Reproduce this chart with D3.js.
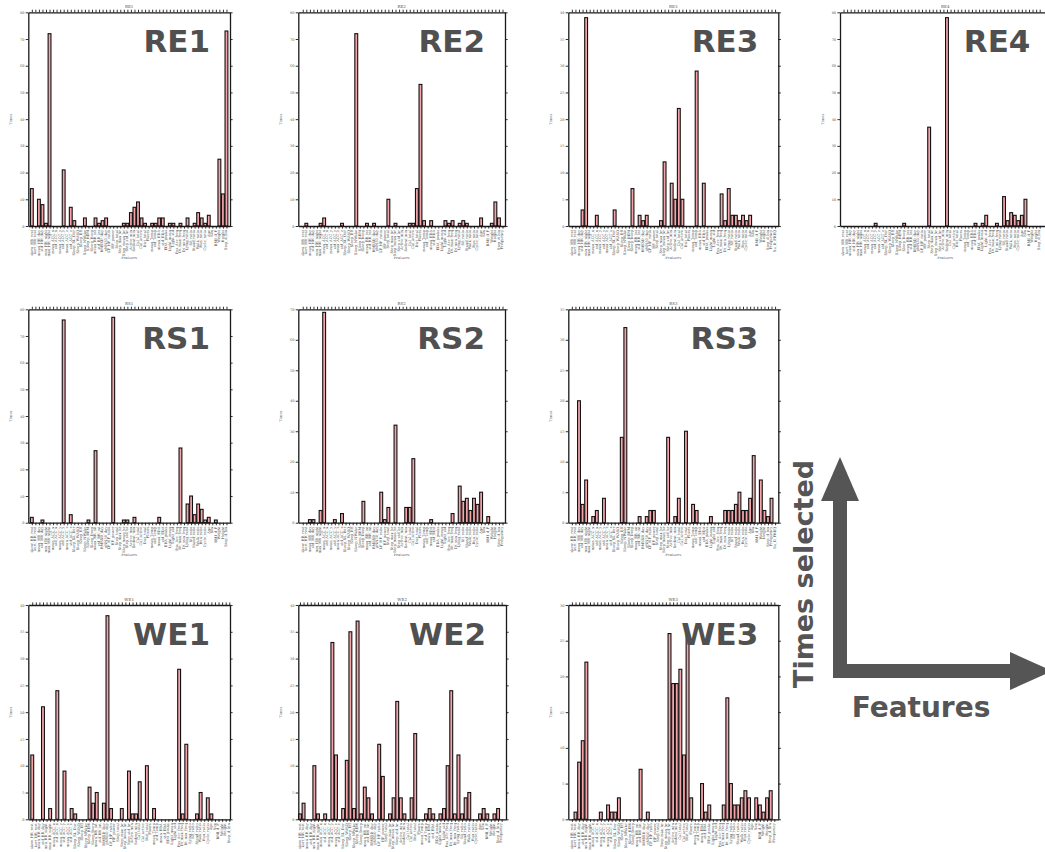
<!DOCTYPE html>
<html>
<head>
<meta charset="utf-8">
<script src="https://cdn.jsdelivr.net/npm/d3@7"></script>
<style>
  body { margin: 0; background: #fff; }
  svg { display: block; }
  .tick text { fill: #444; }
</style>
</head>
<body>
<svg id="fig" width="1045" height="852"></svg>
<script>
// feature names along the x axis (shared, each panel uses the first n)
const features = [
  "skew_HR_rest", "kurt_HR_rest", "mean_HR_day", "std_HR_day", "min_HR_night", "max_HR_night",
  "mean_ACC_x", "std_ACC_x", "mean_ACC_y", "std_ACC_y", "mean_ACC_z", "std_ACC_z",
  "Sleep_SL_Dur", "Sleep_WASO", "Sleep_Eff", "Sleep_NWake", "Sleep_REM", "Sleep_Deep",
  "mean_RR_int", "std_RR_int", "RMSSD_day", "pNN50_day", "LF_HF_ratio", "HF_power",
  "Step_total", "Step_max_hr", "Step_mean_hr", "Step_std_hr", "Active_min", "Sedent_min",
  "Cal_total", "Cal_active", "Dist_total", "Floors", "mean_Temp", "std_Temp",
  "mean_EDA", "std_EDA", "EDA_peaks", "Light_mean", "Light_std", "Pos_Acc_freq",
  "Dt_max_freq", "Dt_min_freq", "Lying_ratio", "Sit_ratio", "Stand_ratio", "Walk_ratio",
  "Run_ratio", "Cycle_ratio", "Age", "Sex", "BMI_d_F", "Weight",
  "Height", "Step_d_bin", "Frequency", "Su_D_FREQ"
];

const panelNames = ["RE1", "RE2", "RE3", "RE4", "RS1", "RS2", "RS3", "WE1", "WE2", "WE3"];
const yMax  = [80, 80, 40, 80, 80, 70, 35, 40, 40, 30];
const yStep = [10, 10, 5, 10, 10, 10, 5, 5, 5, 5];

// times each feature was selected, one array per panel
const RE1 = [14,0,10,8,1,72,0,0,0,21, 0,7,2,0,0,3,0,0,3,1, 2,3,0,0,0,0,1,1,5,7,
             9,3,1,0,1,1,3,3,0,1, 1,0,1,0,3,0,1,5,3,1, 4,0,0,25,12,73];
const RE2 = [0,1,0,0,0,1,3,0,0,0, 0,1,0,0,0,72,0,0,1,0, 1,0,0,0,10,0,1,0,0,0,
             1,1,14,53,2,0,2,0,0,0, 2,1,2,0,1,2,1,0,0,0, 3,0,0,1,9,3,0];
const RE3 = [0,0,0,3,39,0,0,2,0,0, 0,0,3,0,0,0,0,7,0,2, 1,2,0,0,0,1,12,0,8,5,
             22,5,0,0,0,29,0,8,0,0, 0,0,6,1,7,2,2,1,2,1, 2,0,0,0,0,0,0,0];
const RE4 = [0,0,0,0,0,0,0,0,0,1, 0,0,0,0,0,0,0,1,0,0, 0,0,0,0,37,0,0,0,0,78,
             0,0,0,0,0,0,0,1,0,1, 4,0,0,1,0,11,2,5,4,2, 4,10,0,0,0,0,0,0];
const RS1 = [2,0,0,1,0,0,0,0,0,76, 0,3,0,0,0,0,1,0,27,0, 0,0,0,77,0,0,1,1,0,2,
             0,0,0,0,0,0,2,0,0,0, 0,0,28,0,7,10,3,7,5,1, 2,0,1,0,0,0];
const RS2 = [0,0,1,1,0,4,69,0,0,1, 0,3,0,0,0,0,0,7,0,0, 0,0,10,1,5,0,32,0,0,5,
             5,21,0,0,0,0,1,0,0,0, 0,0,3,0,12,7,8,4,8,6, 10,0,2,0,0,0,0];
const RS3 = [0,0,20,3,7,0,1,2,0,4, 0,0,0,0,14,32,0,0,0,1, 0,1,2,2,0,0,0,14,0,1,
             4,0,15,0,3,2,0,0,0,1, 0,0,0,2,2,2,3,5,2,2, 4,11,0,7,2,1,4,0];
const WE1 = [12,0,0,21,0,2,0,24,0,9, 0,2,1,0,0,0,6,3,5,0, 3,38,2,0,0,2,0,9,1,1,
             7,0,10,0,2,0,0,0,0,0, 0,28,1,14,0,0,1,5,0,4, 1,0,0,0,0,0];
const WE2 = [1,3,0,0,10,1,0,1,0,33, 12,0,2,11,35,2,37,1,6,4, 1,0,14,8,0,1,4,22,4,1,
             0,4,16,0,0,1,2,1,0,1, 2,10,24,1,12,1,4,5,0,0, 1,2,1,0,1,2,0];
const WE3 = [0,1,8,11,22,0,0,0,1,0, 2,1,1,3,0,0,0,0,0,7, 0,1,0,0,0,0,0,26,19,19,
             21,9,26,3,0,0,5,1,2,0, 0,0,2,17,5,2,2,3,4,3, 0,3,2,1,3,4,0];
const series = [RE1, RE2, RE3, RE4, RS1, RS2, RS3, WE1, WE2, WE3];

// where each small axes box sits on the page, and its x extent in feature units
const layout = [
  {x0: 28.3,  x1: 230,   y0: 12.3,  y1: 226,   lo: 0,     hi: 57},
  {x0: 298.3, x1: 505,   y0: 12.3,  y1: 226,   lo: -0.25, hi: 57.7},
  {x0: 568.3, x1: 778.3, y0: 12.3,  y1: 226,   lo: 0,     hi: 58.9},
  {x0: 840,   x1: 1050.4,y0: 12.3,  y1: 226,   lo: 0,     hi: 59},
  {x0: 28.3,  x1: 230,   y0: 309.3, y1: 522.7, lo: 0,     hi: 57},
  {x0: 298.3, x1: 505,   y0: 309.3, y1: 522.7, lo: -0.25, hi: 57.7},
  {x0: 568.3, x1: 778.3, y0: 309.3, y1: 522.7, lo: 0,     hi: 58.9},
  {x0: 28.3,  x1: 230,   y0: 605,   y1: 819.3, lo: -0.1,  hi: 56.2},
  {x0: 298.3, x1: 506,   y0: 605,   y1: 819.3, lo: 0.54,  hi: 58.2},
  {x0: 568.3, x1: 778.3, y0: 605,   y1: 819.3, lo: 0,     hi: 58.1}
];

const W = 1045, H = 852;
const svg = d3.select("#fig");
svg.append("rect").attr("width", W).attr("height", H).attr("fill", "#fff");

const ink = "#1a1a1a", grey = "#555";

panelNames.forEach(function(name, p) {
  var L = layout[p], vals = series[p], n = vals.length;
  var x = d3.scaleLinear().domain([L.lo, L.hi]).range([L.x0, L.x1]);
  var y = d3.scaleLinear().domain([0, yMax[p]]).range([L.y1, L.y0]);
  var g = svg.append("g");
  var bw = 0.8 * (x(1) - x(0));
  var idx = d3.range(1, n + 1);
  var shown = idx.filter(function(k) { return x(k) < W - 2; });
  var yt = d3.range(0, yMax[p] + 0.001, yStep[p]);

  g.selectAll("rect.bar").data(idx.filter(function(k) { return vals[k - 1] > 0; }))
    .enter().append("rect").attr("class", "bar")
      .attr("x", function(k) { return x(k) - bw / 2; })
      .attr("y", function(k) { return y(vals[k - 1]); })
      .attr("width", bw)
      .attr("height", function(k) { return y(0) - y(vals[k - 1]); })
      .attr("fill", "#f3a5aa").attr("stroke", "#111").attr("stroke-width", 1.1);

  var bottom = g.append("g").attr("transform", "translate(0," + L.y1 + ")")
    .call(d3.axisBottom(x).tickValues(shown).tickSize(2.6).tickSizeOuter(0)
      .tickFormat(function(k) { return features[k - 1]; }));
  bottom.selectAll("text").attr("font-size", 3.6).attr("font-family", "DejaVu Serif")
    .attr("transform", "rotate(-90)").attr("text-anchor", "end")
    .attr("x", -4).attr("y", -0.9).attr("dy", "0.32em");

  g.append("g").attr("transform", "translate(0," + L.y0 + ")")
    .call(d3.axisTop(x).tickValues(shown).tickSize(2.6).tickSizeOuter(0).tickFormat(""));

  var left = g.append("g").attr("transform", "translate(" + L.x0 + ",0)")
    .call(d3.axisLeft(y).tickValues(yt).tickSize(2.6).tickSizeOuter(0));
  left.selectAll("text").attr("font-size", 3.4).attr("font-family", "DejaVu Serif").attr("x", -4);

  g.append("g").attr("transform", "translate(" + L.x1 + ",0)")
    .call(d3.axisRight(y).tickValues(yt).tickSize(2.6).tickSizeOuter(0).tickFormat(""));

  g.selectAll(".domain").attr("stroke", ink).attr("stroke-width", 1.3);
  g.selectAll(".tick line").attr("stroke", ink).attr("stroke-width", 0.9);

  // tiny matplotlib-style title and axis names (bottom row x-name falls off the page)
  g.append("text").attr("x", (L.x0 + L.x1) / 2).attr("y", L.y0 - 4.5)
    .attr("text-anchor", "middle").attr("font-size", 4).attr("font-family", "DejaVu Serif")
    .attr("fill", grey).text(name);
  if (L.y1 + 36 < H) {
    g.append("text").attr("x", (L.x0 + L.x1) / 2).attr("y", L.y1 + 33)
      .attr("text-anchor", "middle").attr("font-size", 3.6).attr("font-family", "DejaVu Serif")
      .attr("fill", grey).text("Features");
  }
  g.append("text").attr("transform", "translate(" + (L.x0 - 16) + "," + ((L.y0 + L.y1) / 2) + ") rotate(-90)")
    .attr("text-anchor", "middle").attr("font-size", 3.6).attr("font-family", "DejaVu Serif")
    .attr("fill", grey).text("Times");

  // big overlay label
  g.append("text").attr("x", L.x1 - 20).attr("y", L.y0 + 39.5)
    .attr("text-anchor", "end").attr("font-size", 31).attr("font-weight", "bold")
    .attr("font-family", "DejaVu Sans").attr("fill", "#505050").text(name);
});

// legend arrows: Times selected vs Features
var arrow = svg.append("g").attr("fill", "#555");
arrow.append("path").attr("d", "M833,500 L847,500 L847,664 L1010,664 L1010,678 L833,678 Z");
arrow.append("path").attr("d", "M821,501 L859,501 L840,457 Z");
arrow.append("path").attr("d", "M1010,652 L1010,690 L1052,671 Z");
arrow.append("text").attr("transform", "translate(813,688) rotate(-90)")
  .attr("font-size", 27).attr("font-weight", "bold").attr("font-family", "DejaVu Sans")
  .text("Times selected");
arrow.append("text").attr("x", 921).attr("y", 717).attr("text-anchor", "middle")
  .attr("font-size", 28).attr("font-weight", "bold").attr("font-family", "DejaVu Sans")
  .text("Features");
</script>
</body>
</html>
